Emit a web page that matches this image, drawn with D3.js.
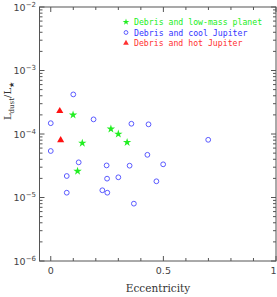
<!DOCTYPE html>
<html>
<head>
<meta charset="utf-8">
<script src="https://cdn.jsdelivr.net/npm/d3@7"></script>
<style>
  body { margin: 0; background: #fff; }
  svg { display: block; }
</style>
</head>
<body>
<div id="chart"></div>
<script>
// debris disc hosts, eccentricity vs Ldust/L*
var lowMassE = [0.099, 0.267, 0.30, 0.14, 0.339, 0.119];
var lowMassL = [2.0e-4, 1.2e-4, 1.0e-4, 7.2e-5, 7.4e-5, 2.6e-5];

var coolE = [0.10, 0.19, 0.0, 0.0, 0.358, 0.434, 0.429, 0.124, 0.248, 0.071,
             0.25, 0.30, 0.071, 0.229, 0.251, 0.35, 0.499, 0.469, 0.369, 0.699];
var coolL = [4.2e-4, 1.7e-4, 1.48e-4, 5.4e-5, 1.45e-4, 1.42e-4, 4.7e-5, 3.58e-5, 3.2e-5, 2.18e-5,
             1.98e-5, 2.08e-5, 1.19e-5, 1.3e-5, 1.19e-5, 3.17e-5, 3.33e-5, 1.8e-5, 8.0e-6, 8.1e-5];

var hotE = [0.04, 0.044];
var hotL = [2.3e-4, 8.0e-5];

var legendNames = ["Debris and low-mass planet", "Debris and cool Jupiter", "Debris and hot Jupiter"];
var xTickLabels = ["0", "0.5", "1"];
var yDecades = [-2, -3, -4, -5, -6];

var W = 277, H = 297;
var pL = 39.5, pR = 276, pT = 7, pB = 261;

var svg = d3.select("#chart").append("svg").attr("width", W).attr("height", H);

var x = d3.scaleLinear().domain([-0.05, 1.0]).range([pL, pR]);
var y = d3.scaleLog().domain([1e-6, 1e-2]).range([pB, pT]);

var axisCol = "#555";

// frame
svg.append("rect")
   .attr("x", pL).attr("y", pT)
   .attr("width", pR - pL).attr("height", pB - pT)
   .attr("fill", "none").attr("stroke", axisCol).attr("stroke-width", 1);

// x ticks (bottom and top)
var xt = d3.range(0, 11).map(function(i){ return i / 10; });
xt.forEach(function(v){
  var len = (Math.round(v * 10) % 5 == 0) ? 5 : 3;
  var px = x(v);
  svg.append("line").attr("x1", px).attr("x2", px).attr("y1", pB).attr("y2", pB - len)
     .attr("stroke", axisCol);
  svg.append("line").attr("x1", px).attr("x2", px).attr("y1", pT).attr("y2", pT + len)
     .attr("stroke", axisCol);
});

// y ticks (left and right)
var yt = [];
for (var d = -6; d < -2; d++) {
  for (var m = 1; m < 10; m++) yt.push({v: m * Math.pow(10, d), major: m == 1});
}
yt.push({v: 1e-2, major: true});
yt.forEach(function(t){
  var len = t.major ? 5 : 3;
  var py = y(t.v);
  svg.append("line").attr("x1", pL).attr("x2", pL + len).attr("y1", py).attr("y2", py)
     .attr("stroke", axisCol);
  svg.append("line").attr("x1", pR).attr("x2", pR - len).attr("y1", py).attr("y2", py)
     .attr("stroke", axisCol);
});

// tick labels
var labFont = "DejaVu Sans, sans-serif";
svg.selectAll(".xlab").data(xTickLabels).enter().append("text")
   .attr("class", "xlab")
   .attr("x", function(d){ return Math.min(x(+d), 273.5); })
   .attr("y", 274)
   .attr("text-anchor", "middle")
   .attr("font-family", labFont).attr("font-size", 9.5)
   .attr("fill", "#444")
   .text(function(d){ return d; });

yDecades.forEach(function(dd){
  var t = svg.append("text")
     .attr("x", 36).attr("y", y(Math.pow(10, dd)) + 3.5)
     .attr("text-anchor", "end")
     .attr("font-family", labFont).attr("font-size", 9.5)
     .attr("fill", "#444");
  t.append("tspan").text("10");
  t.append("tspan").attr("dy", -4).attr("font-size", 7).text("\u2212" + (-dd));
});

// axis titles
svg.append("text")
   .attr("x", 158).attr("y", 292)
   .attr("text-anchor", "middle")
   .attr("font-family", "DejaVu Serif, serif").attr("font-size", 10.5)
   .attr("fill", "#333")
   .text("Eccentricity");

var yl = svg.append("text")
   .attr("transform", "translate(11,101) rotate(-90)")
   .attr("text-anchor", "middle")
   .attr("font-family", "DejaVu Serif, serif").attr("font-size", 10)
   .attr("fill", "#333");
yl.append("tspan").text("L");
yl.append("tspan").attr("dy", 2.5).attr("font-size", 7).text("dust");
yl.append("tspan").attr("dy", -2.5).text("/L");
yl.append("tspan").attr("dy", 2.5).attr("font-size", 7).text("\u2605");

// data marks
var starSym = d3.symbol().type(d3.symbolStar).size(22);
var triSym = d3.symbol().type(d3.symbolTriangle).size(22);

svg.selectAll(".cool").data(coolE).enter().append("circle")
   .attr("class", "cool")
   .attr("cx", function(d){ return x(d); })
   .attr("cy", function(d, i){ return y(coolL[i]); })
   .attr("r", 2.4)
   .attr("fill", "none").attr("stroke", "#5a5aff").attr("stroke-width", 1);

svg.selectAll(".low").data(lowMassE).enter().append("path")
   .attr("class", "low")
   .attr("d", starSym)
   .attr("transform", function(d, i){ return "translate(" + x(d) + "," + y(lowMassL[i]) + ")"; })
   .attr("fill", "#22ee22");

svg.selectAll(".hot").data(hotE).enter().append("path")
   .attr("class", "hot")
   .attr("d", triSym)
   .attr("transform", function(d, i){ return "translate(" + x(d) + "," + y(hotL[i]) + ")"; })
   .attr("fill", "#ff1111");

// legend
var legCols = ["#22ee22", "#3434ff", "#ff3030"];
var legY = [22, 32.5, 43];
legendNames.forEach(function(name, i){
  var g = svg.append("g").attr("transform", "translate(126," + legY[i] + ")");
  if (i == 0) g.append("path").attr("d", d3.symbol().type(d3.symbolStar).size(14)).attr("fill", legCols[0]);
  if (i == 1) g.append("circle").attr("r", 1.9).attr("fill", "none").attr("stroke", "#5a5aff");
  if (i == 2) g.append("path").attr("d", d3.symbol().type(d3.symbolTriangle).size(14)).attr("fill", legCols[2]);
  g.append("text")
   .attr("x", 8).attr("y", 3)
   .attr("font-family", "DejaVu Sans Mono, monospace").attr("font-size", 8.2)
   .attr("fill", legCols[i])
   .text(name);
});
</script>
</body>
</html>
